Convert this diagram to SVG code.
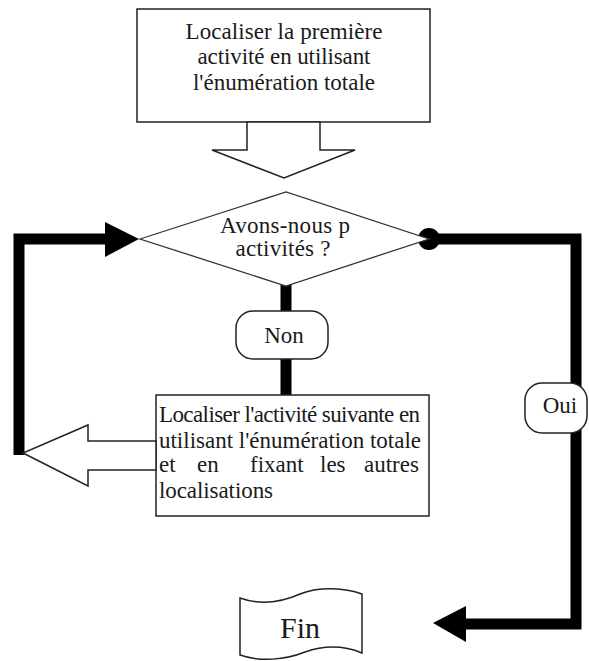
<svg xmlns="http://www.w3.org/2000/svg" width="589" height="661" viewBox="0 0 589 661">
<style>
.shape{fill:#fff;stroke:#222;stroke-width:1.5}
.thin{fill:#fff;stroke:#333;stroke-width:1.3}
.t{font-family:"Liberation Serif","Times New Roman",serif;font-size:23px;fill:#1a1a1a}
.c{text-anchor:middle}
.thick{fill:none;stroke:#000;stroke-width:11}
</style>
<rect width="589" height="661" fill="#fff"/>
<g id="connectors">
<path class="thick" d="M106,239 H19 V455"/>
<polygon points="105,222 139,239 105,257" fill="#000"/>
<path class="thick" d="M429,239 H576 V624 H462"/>
<circle cx="429" cy="239" r="11" fill="#000"/>
<polygon points="466,606 433,623 466,642" fill="#000"/>
<path class="thick" d="M286,284 V312 M286,359 V396"/>
</g>
<g id="start">
<rect class="shape" x="137" y="9" width="293" height="113"/>
<text class="t c" x="284" y="39" textLength="197" lengthAdjust="spacing">Localiser la première</text>
<text class="t c" x="284" y="64" textLength="173" lengthAdjust="spacing">activité en utilisant</text>
<text class="t c" x="284" y="90" textLength="182" lengthAdjust="spacing">l'énumération totale</text>
</g>
<g id="arrow-down">
<polygon class="shape" points="247,122 247,150 212,150 284,178 355,150 320,150 320,122"/>
</g>
<g id="decision">
<polygon class="thin" points="140,239 286,192 429,239 286,286"/>
<text class="t c" x="285" y="233" textLength="130" lengthAdjust="spacing">Avons-nous p</text>
<text class="t c" x="283" y="256" textLength="95" lengthAdjust="spacing">activités ?</text>
</g>
<g id="non">
<rect class="shape" x="236" y="311" width="92" height="48" rx="17"/>
<text class="t c" x="284" y="343">Non</text>
</g>
<g id="next">
<rect class="shape" x="156" y="395" width="273" height="121"/>
<text class="t" x="159" y="422" textLength="261" lengthAdjust="spacing">Localiser l'activité suivante en</text>
<text class="t" x="159" y="448" textLength="262" lengthAdjust="spacing">utilisant l'énumération totale</text>
<text class="t" y="472"><tspan x="159">et</tspan><tspan x="197">en</tspan><tspan x="250">fixant</tspan><tspan x="320">les</tspan><tspan x="364">autres</tspan></text>
<text class="t" x="159" y="498" textLength="114" lengthAdjust="spacing">localisations</text>
</g>
<g id="arrow-back">
<polygon class="shape" points="156,441 88,441 88,425 23,453 88,486 88,470 156,470"/>
</g>
<g id="oui">
<rect class="shape" x="525" y="383" width="62" height="50" rx="17"/>
<text class="t c" x="560" y="413">Oui</text>
</g>
<g id="fin">
<path class="shape" d="M240,598 C262,606 282,602 300,594 C320,586 345,588 362,594 L362,653 C345,646 325,645 305,652 C285,660 260,662 240,655 Z"/>
<text class="t c" x="300" y="638" style="font-size:30px">Fin</text>
</g>
</svg>
